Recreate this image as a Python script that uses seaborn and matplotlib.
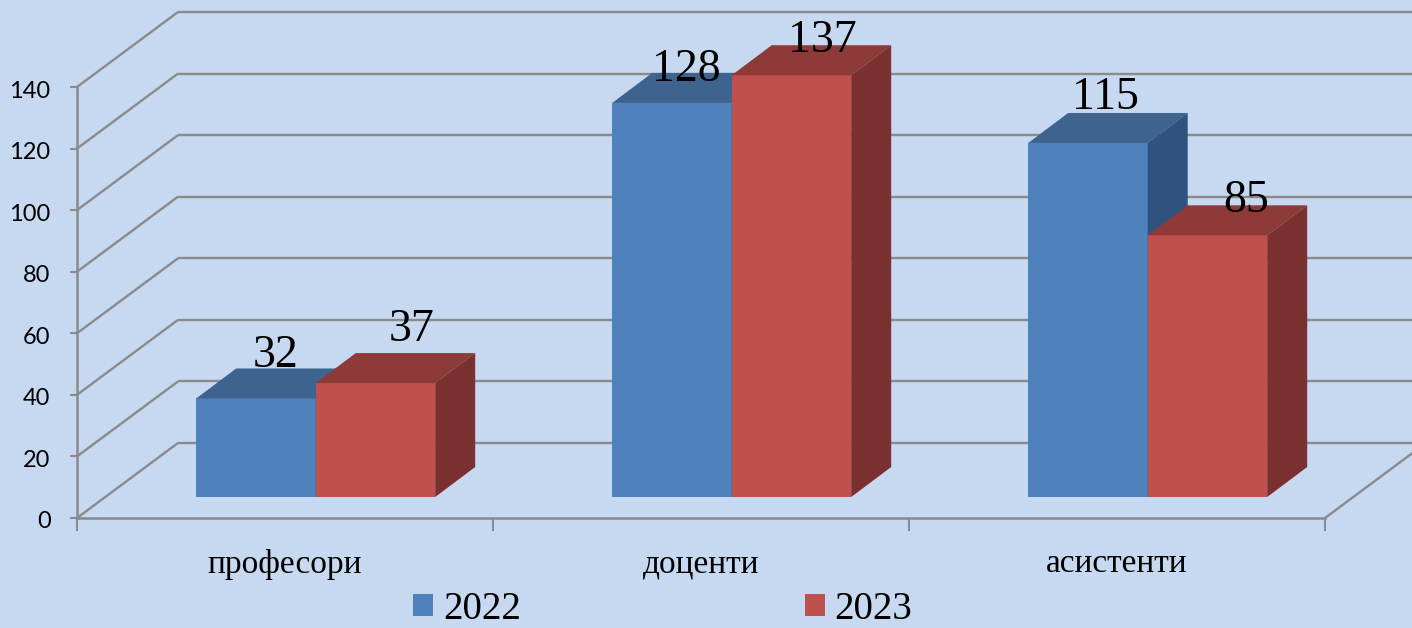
import matplotlib
matplotlib.use("Agg")
import matplotlib.pyplot as plt
from matplotlib.patches import Polygon, Patch
from matplotlib.transforms import Affine2D
import pandas as pd
import seaborn as sns

categories = ["професори", "доценти", "асистенти"]
years = ["2022", "2023"]
values_2022 = [32, 128, 115]
values_2023 = [37, 137, 85]
y_ticks = [0, 20, 40, 60, 80, 100, 120, 140]

# label nudges in pixels relative to the centre of each bar's front top edge
label_nudge_2022 = [(20, 43), (14, 33), (17, 45)]
label_nudge_2023 = [(36, 53), (31, 34), (39, 35)]

BG = "#C6D9F1"
GRID = "#8A8A8A"
FRONT = ["#4F81BD", "#C0504D"]
TOP = ["#3E638F", "#8E3A38"]
SIDE = ["#2F527F", "#7A302E"]

W, H = 1412, 628
sns.set_theme(style="white", rc={"axes.facecolor": "none", "figure.facecolor": BG})
fig = plt.figure(figsize=(W / 100, H / 100), dpi=100, facecolor=BG)
ax = fig.add_axes([77 / W, (H - 518) / H, 1248 / W, 431 / H])

df = pd.DataFrame({
    "category": categories * 2,
    "year": [years[0]] * 3 + [years[1]] * 3,
    "value": values_2022 + values_2023,
})
sns.barplot(data=df, x="category", y="value", hue="year", palette=FRONT,
            width=0.5745, gap=0, saturation=1, dodge=True, ax=ax, legend=False,
            linewidth=0, zorder=3)

ax.set_xlim(-0.5, 2.5)
ax.set_ylim(0, 140)

px_x = 416.0  # pixels per category
px_y = 431.0 / 140  # pixels per unit
wall_dx, wall_dy = 101 / px_x, 75 / px_y
bar_dx, bar_dy = 40 / px_x, 30 / px_y

# walls and gridlines
line_kw = dict(color=GRID, lw=1.7, clip_on=False, zorder=1, solid_capstyle="butt")
for v in y_ticks:
    ax.plot([-0.5, -0.5 + wall_dx], [v, v + wall_dy], **line_kw)
    ax.plot([-0.5 + wall_dx, 2.5 + wall_dx], [v + wall_dy, v + wall_dy], **line_kw)
ax.plot([2.5, 2.5 + wall_dx], [0, wall_dy], **line_kw)

# shift bars forward on the floor, add the depth faces
shift = Affine2D().translate(30.7, 21)
trans = ax.transData + shift
nudges = [label_nudge_2022, label_nudge_2023]
for s, cont in enumerate(ax.containers):
    for i, bar in enumerate(cont.patches):
        z = 3 + s
        bar.set_transform(trans)
        bar.set_zorder(z)
        bar.set_clip_on(False)
        x0, w, h = bar.get_x(), bar.get_width(), bar.get_height()
        x1 = x0 + w
        ax.add_patch(Polygon([(x0, h), (x1, h), (x1 + bar_dx, h + bar_dy), (x0 + bar_dx, h + bar_dy)],
                             closed=True, fc=TOP[s], ec="none", transform=trans, zorder=z, clip_on=False))
        ax.add_patch(Polygon([(x1, 0), (x1 + bar_dx, bar_dy), (x1 + bar_dx, h + bar_dy), (x1, h)],
                             closed=True, fc=SIDE[s], ec="none", transform=trans, zorder=z, clip_on=False))
        ax.annotate(f"{int(h)}", xy=(x0 + w / 2, h), xycoords=trans,
                    xytext=nudges[s][i], textcoords="offset pixels",
                    ha="center", va="center", fontsize=33, family="Liberation Serif",
                    color="black", zorder=10, annotation_clip=False)

# axes
for sp in ["top", "right"]:
    ax.spines[sp].set_visible(False)
for sp in ["left", "bottom"]:
    ax.spines[sp].set_color(GRID)
    ax.spines[sp].set_linewidth(1.8)
    ax.spines[sp].set_zorder(2)
ax.set_xlabel("")
ax.set_ylabel("")
ax.set_yticks(y_ticks)
ax.set_yticklabels([str(v) for v in y_ticks], family="Lato", fontsize=17, color="black")
ax.tick_params(axis="y", left=True, length=5, width=1.5, color=GRID, pad=14)
for lab in ax.get_yticklabels():
    lab.set_transform(lab.get_transform() + Affine2D().translate(0, -2))
ax.set_xticks([0, 1, 2])
ax.set_xticklabels(categories, family="Liberation Serif", fontsize=24, color="black")
ax.set_xticks([-0.5, 0.5, 1.5, 2.5], minor=True)
ax.tick_params(axis="x", which="major", bottom=False, length=0, pad=22)
ax.tick_params(axis="x", which="minor", bottom=True, length=9, width=1.5, color=GRID)

# legend
handles = [Patch(fc=FRONT[0], ec="none"), Patch(fc=FRONT[1], ec="none")]
fig.legend(handles, years, loc="lower left", bbox_to_anchor=(413 / W, 0.0), ncol=2,
           frameon=False, prop={"family": "Liberation Serif", "size": 28},
           labelcolor="black",
           handlelength=0.514, handleheight=0.514, handletextpad=0.257, columnspacing=7.3,
           borderpad=0, borderaxespad=0)

fig.savefig("out.png", dpi=100, facecolor=BG)
